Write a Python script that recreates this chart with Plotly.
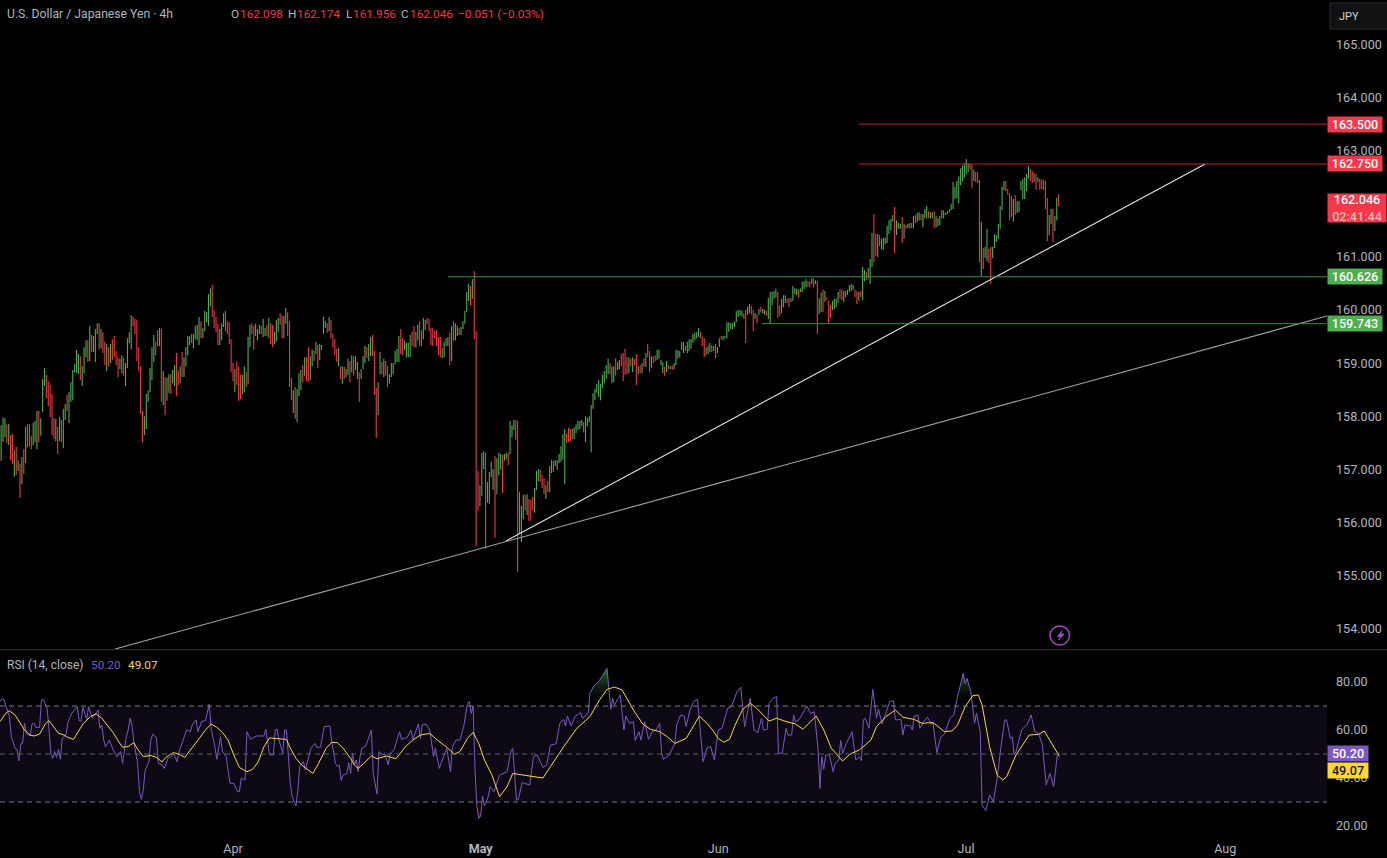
import plotly.graph_objects as go

# --- USD/JPY 4h bars: high, low and direction of each session block ---
highs_mar_apr = [
157.83,157.98,157.96,157.85,157.86,157.64,157.66,157.36,157.42,157.17,157.10,157.23,157.38,157.80,157.85,157.85,157.63,157.88,157.91,158.10,
158.10,157.96,158.70,158.91,158.78,158.66,158.59,158.42,157.96,157.95,157.80,157.98,157.93,158.14,158.23,158.40,158.45,158.64,158.87,158.98,
159.25,159.17,159.13,158.94,159.30,159.43,159.43,159.70,159.53,159.51,159.64,159.75,159.75,159.64,159.58,159.40,159.36,159.30,159.36,159.45,
159.51,159.23,159.11,159.08,159.15,159.10,159.00,159.47,159.58,159.90,159.87,159.83,159.81,159.30,158.94,158.10,158.00,158.42,158.49,158.91,
159.30,159.53,159.40,159.62,159.66,159.64,158.85,158.74,158.72,158.79,158.79,158.87,158.96,159.19,158.85,158.94,159.21,159.10,159.30,159.51,
159.51,159.55,159.55,159.70,159.72,159.87,159.79,159.66,159.98,159.96,160.30,160.41,160.47,160.00,159.87,159.74,159.64,159.75,159.94,159.98,
159.79,159.77,159.45,159.00,158.89,159.02,158.93,158.78,158.78,158.94,158.83,159.49,159.72,159.75,159.70,159.74,159.64,159.72]
lows_mar_apr = [
157.16,157.52,157.61,157.49,157.46,157.17,157.10,156.86,156.89,156.97,156.46,156.72,156.91,157.12,157.41,157.43,157.38,157.46,157.51,157.38,
157.51,157.63,158.08,158.57,158.34,158.19,157.98,157.64,157.57,157.53,157.29,157.53,157.51,157.40,157.93,158.10,157.87,158.27,158.30,158.83,
158.82,158.79,158.68,158.57,158.81,159.11,159.02,159.04,159.21,159.21,159.02,159.55,159.26,159.28,159.19,158.96,158.85,158.93,159.00,159.06,
159.11,158.96,158.74,158.89,158.81,158.76,158.57,158.91,159.38,159.26,159.70,159.55,159.04,158.85,158.04,157.51,157.64,157.76,158.27,158.45,
158.68,159.02,159.15,159.32,159.32,158.27,158.21,158.02,158.29,158.44,158.42,158.62,158.57,158.38,158.59,158.62,158.74,158.74,158.94,159.15,
159.34,159.38,159.28,159.45,159.43,159.34,159.47,159.47,159.60,159.77,159.70,160.07,159.87,159.66,159.58,159.34,159.34,159.43,159.68,159.60,
159.55,159.36,158.83,158.66,158.45,158.59,158.29,158.32,158.42,158.45,158.55,158.60,159.30,159.55,159.25,159.51,159.43,159.55]
dirs_mar_apr = ("GGGRGRRGRG" "RGRGRRRGGG" "RGGGRRRRRG" "RGRGGRGGGG" "GGRGGGRGRG" "GGRGRRGRGR" "RRRGGRGGGG"
                "RRRRRRGGGG" "GGRRGRGRGG" "RGGRRGRGGG" "GRGGGGRGGG" "GGRRRRGGGR" "RRRRGRRRGG" "RGGRRGGG")

highs_apr_may = [
159.70,159.83,159.66,159.72,159.85,159.75,159.72,159.59,159.81,159.85,159.94,159.89,159.89,160.04,159.96,159.79,158.72,158.49,158.55,158.51,
158.81,158.87,158.96,159.11,159.11,159.30,159.13,159.25,159.23,159.40,159.34,159.36,159.34,159.87,159.79,159.75,159.87,159.81,159.55,159.45,
159.27,159.28,158.94,158.94,158.93,158.89,159.08,159.04,159.15,159.13,159.13,159.02,158.83,158.89,159.13,159.32,159.30,159.36,159.49,159.53,
159.23,158.53,158.64,159.21,159.02,159.08,159.04,158.94,158.79,159.00,159.00,159.23,159.27,159.51,159.64,159.47,159.42,159.38,159.38,159.53,
159.59,159.70,159.59,159.72,159.79,159.62,159.85,159.81,159.85,159.83,159.66,159.66,159.60,159.62,159.49,159.49,159.28,159.40,159.47,159.49,
159.57,159.70,159.79,159.75,159.70,159.66,159.68,159.79,159.98,160.34,160.49,160.45,160.58,160.73,159.60,156.97,156.70,157.31,157.34,157.31,
156.76,156.95,157.14,157.00,157.25,157.21,157.31,157.29,157.27,157.29,157.31,157.31,157.91,157.83,157.93,157.93,157.91]
lows_apr_may = [
159.55,159.49,159.51,159.51,159.47,159.36,159.30,159.36,159.40,159.59,159.72,159.47,159.47,159.74,159.51,158.55,158.30,158.06,157.95,157.89,
158.38,158.49,158.64,158.76,158.66,158.64,158.68,158.94,159.04,159.17,158.91,159.06,159.25,159.55,159.66,159.57,159.60,159.47,159.30,159.15,
159.02,158.94,158.70,158.61,158.70,158.74,158.78,158.64,158.83,158.76,158.87,158.70,158.27,158.70,158.89,159.00,159.09,159.04,159.13,159.13,
158.40,157.59,158.02,158.79,158.79,158.74,158.76,158.55,158.62,158.74,158.79,158.98,159.02,159.02,159.17,159.15,159.25,159.11,159.11,159.11,
159.32,159.30,159.30,159.43,159.32,159.32,159.45,159.62,159.74,159.60,159.34,159.32,159.47,159.32,159.15,159.11,159.09,159.11,159.32,159.32,
158.96,159.04,159.42,159.43,159.51,159.53,159.53,159.64,159.74,159.96,160.17,160.08,160.21,159.45,155.56,156.21,156.31,156.50,157.00,155.50,
156.37,156.35,156.85,156.61,155.71,156.53,156.89,156.99,156.55,157.16,157.19,157.08,157.29,157.61,157.74,157.55,155.07]
dirs_apr_may = ("RGGRGRRGGG" "RRGGRRRGRG" "GGRGRRGGRG" "RGGGGRGRRR" "RGRGRGGRGR" "GGRGGGRGGR" "RRGGRGRRGG"
                "GGGGRRGGGG" "RRGGRRGGRR" "RRRRRRGGGG" "RGRGGRGGGG" "GRGRRRGGGR" "GGGGRGGGRG" "GRGGGRR")

highs_may_jun = [
156.57,156.31,156.52,156.52,156.53,156.44,156.42,156.48,156.65,156.97,157.00,156.99,156.89,156.83,156.70,156.78,157.06,157.17,157.16,157.17,
157.17,157.29,157.44,157.66,157.76,157.68,157.78,157.76,157.76,157.79,157.85,157.91,157.91,157.93,157.89,158.00,157.97,158.00,158.21,158.43,
158.51,158.61,158.68,158.61,158.78,158.85,158.96,159.08,159.00,158.94,158.94,159.09,159.02,159.06,159.17,159.19,159.27,159.11,159.11,159.08,
159.11,159.08,159.17,158.94,158.96,159.00,159.09,159.19,159.36,159.23,159.13,159.13,159.15,159.25,159.25,159.06,159.02,158.93,159.04,158.96,
158.94,158.96,159.00,159.25,159.24,159.23,159.40,159.40,159.32,159.40,159.45,159.45,159.55,159.57,159.59,159.66,159.59,159.49,159.47,159.30,
159.32,159.38,159.34,159.32,159.36,159.30,159.47,159.51,159.51,159.51,159.77,159.77,159.75,159.75,159.79,159.98,160.00,160.00,159.99,159.94,
160.00,160.06,160.11,160.08,160.00,159.94,159.92,160.02,160.06,160.02,160.00,159.98,160.23,160.34,160.34,160.36,160.40,160.34]
lows_may_jun = [
155.79,155.63,156.06,156.23,156.14,156.03,156.03,156.23,156.18,156.61,156.78,156.76,156.65,156.53,156.44,156.57,156.57,156.93,156.95,157.06,
156.99,157.12,157.14,157.19,156.72,157.49,157.51,157.53,157.57,157.57,157.68,157.74,157.76,157.81,157.70,157.51,157.81,157.89,157.32,158.14,
158.30,158.44,158.36,158.30,158.53,158.62,158.70,158.79,158.79,158.62,158.64,158.76,158.87,158.89,158.94,158.66,158.78,158.79,158.81,158.94,
158.83,158.96,158.59,158.79,158.81,158.81,158.93,158.93,159.11,158.83,158.91,159.00,159.04,159.06,159.08,158.96,158.81,158.76,158.83,158.89,
158.89,158.87,158.89,158.96,159.08,159.11,159.24,159.19,159.23,159.19,159.23,159.27,159.38,159.43,159.47,159.49,159.47,159.32,159.11,159.15,
159.17,159.21,159.21,159.23,159.09,159.19,159.30,159.45,159.43,159.47,159.47,159.59,159.64,159.64,159.68,159.77,159.87,159.89,159.88,159.83,
159.38,159.91,159.94,159.92,159.60,159.83,159.75,159.91,159.96,159.94,159.91,159.89,159.83,159.74,160.09,160.21,160.23,159.85]
dirs_may_jun = ("GGGRGRRRGG" "GRRRGRGGRG" "GGGGGRRRGG" "GGGGRGGGGG" "GGGGGGGGRG" "GRGGRRRRGR" "GRRGRGRGRR"
                "GRRGGGGRGR" "GRGGGGGGRGGG" "GGGGRRRGGG" "RGRGGRGGGG" "GGGGGGGRRGG" "RRGRGRGGRG" "GGGGR")

highs_jun_jul = [
160.09,160.21,160.28,160.28,160.22,160.22,160.22,160.45,160.41,160.40,160.39,160.41,160.53,160.54,160.58,160.54,160.54,160.60,160.60,160.56,
160.54,160.22,160.32,160.38,160.36,160.24,160.17,160.10,160.17,160.21,160.21,160.34,160.39,160.38,160.36,160.36,160.38,160.47,160.49,160.47,
160.38,160.36,160.34,160.36,160.81,160.75,160.71,160.79,160.96,161.45,161.81,161.43,161.43,161.41,161.34,161.36,161.36,161.58,161.69,161.72,
161.79,161.94,161.69,161.64,161.62,161.75,161.62,161.60,161.62,161.64,161.64,161.77,161.79,161.83,161.84,161.81,161.81,161.90,161.96,161.86,
161.84,161.84,161.86,161.77,161.73,161.77,161.88,161.88,161.83,161.86,161.90,162.00,162.41,162.32,162.43,162.52,162.67,162.72,162.77,162.84,
162.77,162.75,162.75,162.64,162.60,162.60,162.45,161.66,161.17,161.19,161.53,161.15,161.19,161.19,161.43,161.41,161.62,161.96,162.32,162.43,
162.43,162.28,162.20,162.15,162.09,162.16,162.05,162.05,162.43,162.47,162.50,162.56,162.71,162.65,162.62,162.58,162.56,162.50,162.47,162.46,
162.45,162.43,162.11,161.79,161.90,161.90,161.77,162.11,162.174]
lows_jun_jul = [
159.89,159.94,160.05,160.13,160.13,160.05,160.15,160.17,160.30,160.28,160.24,160.34,160.34,160.39,160.43,160.43,160.43,160.49,160.43,160.49,
159.55,159.92,159.96,159.96,160.15,160.19,159.75,159.85,160.00,160.02,160.05,160.13,160.21,160.19,160.15,160.24,160.28,160.34,160.36,160.38,
160.24,160.11,160.17,160.24,160.19,160.54,160.56,160.60,160.49,160.81,160.90,161.02,161.00,161.20,161.15,161.13,161.24,161.26,161.43,161.50,
161.66,161.07,161.41,161.53,161.53,161.26,161.34,161.53,161.54,161.54,161.54,161.54,161.64,161.66,161.69,161.69,161.56,161.73,161.73,161.73,
161.73,161.73,161.54,161.56,161.58,161.60,161.73,161.73,161.79,161.81,161.83,161.88,161.90,162.09,162.11,162.01,162.35,162.42,162.49,162.56,
162.60,162.64,162.30,162.43,162.41,162.39,160.90,160.64,160.77,160.98,160.92,160.88,160.49,160.98,161.17,161.28,161.34,161.53,161.88,162.26,
162.24,162.17,161.69,161.75,161.66,161.79,161.83,161.84,162.26,162.09,162.09,162.24,162.47,162.43,162.39,162.41,162.26,162.41,162.26,162.28,
162.26,161.90,161.30,161.41,161.62,161.28,161.49,161.69,161.956]
dirs_jun_jul = ("RGGGRRGGGG" "RGGGGRRG" "RGRGGRGRRR" "GGGGRRGGGGGG" "RRGRGGRGGGRR" "GRGGGGGGGRG" "GGRGRGGRGR"
                "GGRGGGRGGR" "GGGGGGGGGGGGGGGGGG" "RRGRRRGRGGRR" "GGGGGGG" "RRRRGRGG" "GGGGGRRGRGRRRRR" "GGRGGR")

last_open = 162.098
last_high = 162.174
last_low = 161.956
last_close = 162.046

# --- RSI (14) line and its moving average, sampled at the turning points ---
rsi_bars = [
0,1,2,4,5,6,8,9,10,11,12,13,14,16,17,18,19,21,22,23,25,26,27,28,29,30,31,32,33,35,36,38,41,42,43,44,46,47,49,52,53,54,55,56,58,60,62,64,65,67,68,69,70,71,73,74,75,76,77,79,80,81,83,84,86,87,88,89,91,92,94,95,97,99,101,102,104,105,107,109,111,112,114,115,117,118,120,122,124,126,127,128,130,131,133,136,140,141,142,143,145,146,147,148,150,151,152,153,154,155,157,158,159,161,162,164,165,167,168,170,172,175,176,178,179,180,181,182,184,185,
186,187,188,189,190,191,192,194,196,197,198,200,201,203,204,206,207,209,212,213,216,218,219,222,223,224,226,228,230,231,233,235,237,239,240,242,244,246,248,249,250,251,252,253,254,255,256,257,259,260,262,265,267,269,271,272,274,275,277,281,283,285,288,290,292,295,297,299,300,301,303,305,308,309,312,313,315,318,322,323,324,325,326,328,329,331,332,334,336,337,339,340,342,344,346,348,350,351,352,355,358,359,361,363,364,366,368,370,
371,373,375,377,379,381,383,386,388,391,393,395,398,400,402,404,405,407,408,410,412,413,415,417,418,420,421,422,424,428,430,432,434,435,436,437,438,440,442,443,445,446,447,449,452,454,456,457,458,459,461,462,463,465,466,468,472,474,475,478,479,480,483,484,485,487,488,490,492,494,495,497,499,501,504,506,508,511,512,513,515,517,518,520,521,523,525,527,529,531,533,534,536,537,538,539,542,545,547,549,551,553,555,557,559,561,562]
rsi_values = [
71.8,72.9,72.8,68.3,65.5,57.2,52.4,51.9,47.1,54.2,54.4,62.8,58.6,57.5,62.5,62.8,61.1,61.1,72.5,72.8,69.0,60.0,50.3,48.2,51.0,48.6,51.9,47.8,56.5,57.9,63.0,66.9,69.7,63.9,63.9,69.4,64.4,69.7,64.9,68.3,60.7,62.1,55.8,53.0,55.8,51.7,48.9,51.0,46.1,57.2,60.0,64.9,62.1,55.1,46.1,34.3,31.1,35.0,43.3,46.8,55.8,58.3,56.9,46.1,45.4,44.0,45.4,48.2,48.9,50.3,46.8,51.0,55.8,60.0,59.3,62.1,64.2,59.3,63.5,63.9,70.8,60.7,53.0,47.8,57.2,51.0,48.9,37.8,37.8,34.3,34.3,39.9,39.2,59.3,56.1,57.5,57.5,60.3,55.1,49.6,49.6,60.0,60.3,55.8,50.3,60.0,60.0,50.3,37.8,32.2,28.3,35.0,44.7,46.8,43.3,49.6,52.4,54.4,52.8,52.8,61.4,61.7,55.1,46.1,44.7,45.4,38.9,41.2,41.9,46.4,
41.9,50.3,45.4,47.5,42.6,48.9,52.4,53.3,57.9,60.0,41.9,33.3,51.0,49.6,50.3,45.4,50.3,51.7,59.3,56.1,56.9,60.0,56.1,62.5,56.5,62.1,62.5,60.0,48.9,52.4,44.0,48.2,52.4,42.6,53.1,55.8,55.8,61.4,71.1,71.8,66.9,70.0,43.3,28.0,23.2,24.2,32.5,28.3,32.2,36.4,34.3,41.2,41.9,42.6,51.0,52.4,30.8,31.1,38.1,37.1,48.9,49.6,44.4,45.4,53.7,54.2,62.8,64.4,61.7,65.8,61.7,65.6,67.2,64.9,66.9,75.3,78.3,80.6,85.7,75.3,68.6,73.2,70.4,73.2,74.6,60.0,65.8,62.8,63.5,55.6,59.3,55.8,63.5,56.1,59.3,60.0,62.8,50.3,47.8,49.6,54.4,62.1,66.2,65.8,61.4,68.3,71.8,72.8,
64.2,46.8,52.4,53.1,47.5,60.0,60.7,69.0,69.7,76.0,77.8,61.4,73.2,60.0,58.9,64.9,60.0,60.3,71.1,73.2,73.9,50.3,50.3,60.7,57.9,57.9,66.2,63.5,64.4,70.0,66.9,67.6,51.7,35.7,48.9,43.6,49.6,49.6,42.6,46.1,47.5,55.6,50.3,54.4,59.3,47.5,48.9,47.2,64.2,64.9,60.7,67.6,76.9,64.9,68.6,62.5,71.8,72.2,64.2,64.4,57.9,62.1,61.7,60.0,65.8,66.2,60.7,63.5,65.3,62.5,62.8,50.5,56.9,58.3,64.9,66.2,73.9,83.6,79.4,81.5,76.0,62.8,67.0,59.3,28.7,26.4,32.9,30.1,39.9,53.1,64.2,64.2,56.5,57.2,49.6,51.0,60.0,62.5,66.2,59.3,58.6,53.7,37.1,41.9,36.4,50.3,50.20]

ma_bars = [
0,3,5,8,11,13,16,18,21,24,26,28,31,34,36,39,41,44,48,51,54,57,60,63,65,68,71,73,76,80,83,86,88,92,95,98,101,105,109,112,115,118,121,124,127,131,134,137,140,143,147,152,154,157,160,164,166,169,173,176,179,182,
186,188,190,193,197,200,205,210,215,219,223,228,232,237,241,244,248,251,254,257,261,265,269,272,279,288,292,299,306,313,318,322,326,330,336,341,345,350,354,358,364,368,
371,375,378,381,384,387,390,394,398,401,405,408,412,417,422,426,430,433,437,441,447,451,456,462,465,470,475,479,485,489,495,501,505,508,512,516,519,521,525,529,532,534,539,546,551,554,562]
ma_values = [
63.5,66.9,68.0,66.2,62.5,60.0,57.9,57.5,58.3,62.5,63.9,61.9,58.6,57.9,56.9,56.1,58.6,62.5,65.6,66.7,64.9,62.1,58.9,55.1,52.8,53.1,54.7,52.0,48.9,49.4,48.6,46.7,48.6,50.6,49.9,48.6,51.9,55.8,60.0,62.5,61.1,59.0,55.8,49.6,44.4,42.6,43.6,46.8,53.0,56.7,56.4,56.1,52.4,48.2,45.4,43.3,41.9,46.1,52.4,54.9,54.7,52.4,
48.2,45.4,44.0,46.1,49.2,48.0,49.2,48.0,53.0,55.8,57.9,58.6,55.8,52.8,49.9,51.0,56.5,59.0,54.4,47.5,41.2,32.2,36.4,41.9,41.0,40.0,44.7,53.0,60.7,65.6,72.5,76.9,77.9,76.7,68.3,62.5,60.3,59.3,57.2,54.4,56.5,62.1,
65.8,62.8,60.0,56.5,54.9,56.1,62.1,68.6,71.1,69.4,66.2,63.7,64.9,63.5,62.5,60.3,63.5,65.8,60.0,52.4,47.1,50.0,51.7,55.8,61.4,65.6,68.3,65.3,64.4,62.8,63.1,59.3,59.6,62.1,69.7,74.3,74.6,70.4,53.0,41.2,39.2,40.5,49.6,57.9,58.2,59.6,49.07]

# --- Drawn levels and trendlines (price, bar number) ---
red_levels = [163.5, 162.75]
green_levels = [160.626, 159.743]
level_start_bars = {163.5: 455, 162.75: 455, 160.626: 237, 159.743: 403.5}
steep_trend_bars = [267.8, 638.7]
steep_trend_prices = [155.65, 162.75]
shallow_trend_bars = [60.4, 703.4]
shallow_trend_prices = [153.616, 159.887]

price_ticks = [154, 155, 156, 157, 158, 159, 160, 161, 163, 164, 165]
rsi_ticks = [20, 40, 60, 80]
month_bars = [123.6, 255, 381, 512.5, 650]
month_labels = ["Apr", "<b>May</b>", "Jun", "Jul", "Aug"]

rsi_last = 50.20
ma_last = 49.07

highs = highs_mar_apr + highs_apr_may + highs_may_jun + highs_jun_jul
lows = lows_mar_apr + lows_apr_may + lows_may_jun + lows_jun_jul
dirs = dirs_mar_apr + dirs_apr_may + dirs_may_jun + dirs_jun_jul
assert len(highs) == len(lows) == len(dirs), (len(highs), len(lows), len(dirs))

bars = list(range(len(highs)))
opens = [lo if d == "G" else hi for hi, lo, d in zip(highs, lows, dirs)]
closes = [hi if d == "G" else lo for hi, lo, d in zip(highs, lows, dirs)]
opens[-1], closes[-1] = last_open, last_close

W, H = 1387, 858
PANE_R = 1327
BAR_PX = 1.885
GREEN, RED, PURPLE, YELLOW = "#4caf50", "#f23645", "#7e57c2", "#fdd835"
TEXT = "#b2b5be"
BADGE = "#a347c4"
FONT = "Roboto"


def px(x):
    return x / W


def py(y):
    return 1 - y / H


fig = go.Figure()

fig.add_trace(go.Ohlc(
    x=bars, open=opens, high=highs, low=lows, close=closes,
    tickwidth=0, line_width=1.1,
    increasing_line_color=GREEN, decreasing_line_color=RED,
    xaxis="x", yaxis="y", hoverinfo="skip", showlegend=False,
))

for tb, tp, colour, width in [
    (steep_trend_bars, steep_trend_prices, "#e2e4e8", 1.1),
    (shallow_trend_bars, shallow_trend_prices, "#a3a3a3", 1.1),
]:
    fig.add_trace(go.Scatter(x=tb, y=tp, mode="lines", line=dict(color=colour, width=width),
                             xaxis="x", yaxis="y", hoverinfo="skip", showlegend=False))

# Overbought and oversold areas of the RSI
over = [max(v, 70) for v in rsi_values]
under = [min(v, 30) for v in rsi_values]
for series, base, start, stop, colour in [
    (over, 70, 70, 84, "rgba(46,120,52,0.8)"),
    (under, 30, 30, 23, "rgba(150,25,40,0.8)"),
]:
    fig.add_trace(go.Scatter(x=rsi_bars, y=[base] * len(rsi_bars), mode="lines", line=dict(width=0),
                             xaxis="x2", yaxis="y2", hoverinfo="skip", showlegend=False))
    fig.add_trace(go.Scatter(
        x=rsi_bars, y=series, mode="lines", line=dict(width=0), fill="tonexty",
        fillgradient=dict(type="vertical", start=start, stop=stop,
                          colorscale=[[0, "rgba(0,0,0,0)"], [1, colour]]),
        xaxis="x2", yaxis="y2", hoverinfo="skip", showlegend=False))

fig.add_trace(go.Scatter(x=rsi_bars, y=rsi_values, mode="lines", line=dict(color=PURPLE, width=1),
                         xaxis="x2", yaxis="y2", hoverinfo="skip", showlegend=False))
fig.add_trace(go.Scatter(x=ma_bars, y=ma_values, mode="lines", line=dict(color=YELLOW, width=1),
                         xaxis="x2", yaxis="y2", hoverinfo="skip", showlegend=False))

# Lightning glyph inside the alert badge
bolt_points = [(1062, 631), (1057.3, 636.7), (1060.6, 636.7), (1058.7, 640), (1064, 634), (1060.6, 634)]
bolt_path = "M" + " L".join(f"{px(x):.5f},{py(y):.5f}" for x, y in bolt_points) + " Z"

shapes = [
    # RSI band and its three guide lines
    dict(type="rect", xref="x2", yref="y2", x0=0, x1=PANE_R / BAR_PX, y0=30, y1=70,
         fillcolor="#0d0a15", line_width=0, layer="below"),
    dict(type="line", xref="paper", yref="paper", x0=0, x1=1, y0=py(649.5), y1=py(649.5),
         line=dict(color="#2f2f2f", width=1)),
    # Currency button
    dict(type="rect", xref="paper", yref="paper", x0=px(1330), x1=px(1392), y0=py(29), y1=py(3),
         fillcolor="#111111", line=dict(color="#2c2c2c", width=1)),
    # Alert badge
    dict(type="circle", xref="paper", yref="paper", x0=px(1050), x1=px(1069.5), y0=py(645), y1=py(626),
         fillcolor="rgba(0,0,0,0)", line=dict(color=BADGE, width=1.5)),
    dict(type="path", xref="paper", yref="paper", path=bolt_path, fillcolor=BADGE,
         line=dict(color=BADGE, width=0.8)),
]
for level in (70, 50, 30):
    shapes.append(dict(type="line", xref="x2", yref="y2", x0=0, x1=PANE_R / BAR_PX, y0=level, y1=level,
                       line=dict(color="#787b86" if level != 50 else "#5d5f68", width=1, dash="5px,4px")))
for level in red_levels:
    shapes.append(dict(type="line", xref="x", yref="y", x0=level_start_bars[level], x1=PANE_R / BAR_PX,
                       y0=level, y1=level, line=dict(color="#c5213a", width=1)))
for level in green_levels:
    shapes.append(dict(type="line", xref="x", yref="y", x0=level_start_bars[level], x1=PANE_R / BAR_PX,
                       y0=level, y1=level, line=dict(color="#3d8b40", width=1)))


def label(x, y, text, colour=TEXT, size=11.8):
    return dict(xref="paper", yref="paper", x=px(x - 2), y=py(y), text=text, showarrow=False,
                xanchor="left", yanchor="middle", font=dict(family=FONT, size=size, color=colour))


def tag(yaxis, value, text, fill, width=54, height=15, colour="#ffffff", **extra):
    return dict(xref="paper", yref=yaxis, x=px(PANE_R), y=value, text=text, showarrow=False,
                xanchor="left", yanchor="middle", bgcolor=fill, width=width, height=height,
                borderpad=0, font=dict(family=FONT, size=12.6, color=colour, weight=500), **extra)


annotations = [
    label(7, 14, "U.S. Dollar / Japanese Yen · 4h", size=12.2),
    label(231, 14, "O"), label(239.5, 14, f"{last_open:.3f}", RED),
    label(288, 14, "H"), label(297, 14, f"{last_high:.3f}", RED),
    label(345.5, 14, "L"), label(353, 14, f"{last_low:.3f}", RED),
    label(401, 14, "C"), label(409.5, 14, f"{last_close:.3f}", RED),
    label(458, 14, "−0.051 (−0.03%)", RED),
    label(7, 665, "RSI (14, close)", size=12),
    label(91, 665, f"{rsi_last:.2f}", PURPLE),
    label(128, 665, f"{ma_last:.2f}", YELLOW),
    label(1339, 16, "JPY", "#d1d4dc", size=11),
]
for level in red_levels:
    annotations.append(tag("y", level, f"{level:.3f}", "#f7374a"))
for level in green_levels:
    annotations.append(tag("y", level, f"{level:.3f}", GREEN))
annotations.append(tag("y", last_close,
                       f"{last_close:.3f}<br><span style='color:#ffb3ba'>02:41:44</span>",
                       "#f7374a", width=58, height=28, yshift=-7))
annotations.append(tag("y2", rsi_last, f"{rsi_last:.2f}", PURPLE, width=40))
annotations.append(tag("y2", ma_last, f"{ma_last:.2f}", YELLOW, width=40, colour="#131313", yshift=-14))

tick_font = dict(family=FONT, size=12.6, color=TEXT)
fig.update_layout(
    width=W, height=H, autosize=False,
    margin=dict(l=0, r=0, t=0, b=0),
    paper_bgcolor="#000000", plot_bgcolor="#000000",
    showlegend=False, dragmode=False, hovermode=False,
    shapes=shapes, annotations=annotations,
    xaxis=dict(domain=[0, px(PANE_R)], range=[-0.6, PANE_R / BAR_PX - 0.6], anchor="y", showgrid=False,
               zeroline=False, showticklabels=False, showline=False, ticks="",
               rangeslider=dict(visible=False)),
    xaxis2=dict(domain=[0, px(PANE_R)], range=[0, PANE_R / BAR_PX], anchor="y2", showgrid=False, zeroline=False,
                showline=False, ticks="", tickmode="array", tickvals=month_bars, ticktext=month_labels,
                tickfont=tick_font, ticklabelstandoff=1),
    yaxis=dict(domain=[py(649), 1], range=[153.616, 165.838], anchor="x", side="right", showgrid=False,
               zeroline=False, showline=False, ticks="", tickmode="array", tickvals=price_ticks,
               tickformat=".3f", tickfont=tick_font, ticklabelstandoff=8),
    yaxis2=dict(domain=[py(838), py(650)], range=[15, 93.33], anchor="x2", side="right", showgrid=False,
                zeroline=False, showline=False, ticks="", tickmode="array", tickvals=rsi_ticks,
                tickformat=".2f", tickfont=tick_font, ticklabelstandoff=8),
)

fig.write_html("out.html", config={"displayModeBar": False})
